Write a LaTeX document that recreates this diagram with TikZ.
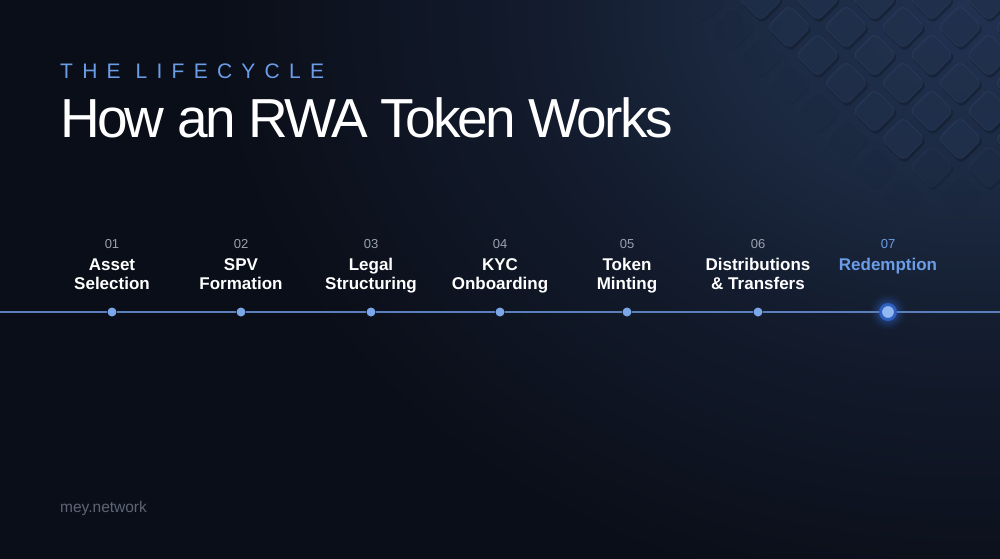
\documentclass[tikz,border=0pt]{standalone}
\usepackage{fontspec}
\setmainfont{Liberation Sans}
\definecolor{bgc}{HTML}{0A0E18}
\definecolor{glowa}{HTML}{213150}
\definecolor{glowb}{HTML}{1C2A42}
\definecolor{glowc}{HTML}{121A2B}
\definecolor{dfill}{HTML}{22324F}
\definecolor{dedge}{HTML}{4A5F85}
\definecolor{kickc}{HTML}{6B9DE6}
\definecolor{numc}{HTML}{9AA1AE}
\definecolor{linec}{HTML}{5A7FBA}
\definecolor{dotc}{HTML}{7BA6EA}
\definecolor{dotlight}{HTML}{92B8F2}
\definecolor{ringc}{HTML}{2E5EBE}
\definecolor{brandc}{HTML}{5D6576}
\pgfdeclareradialshading{bgglow}{\pgfpoint{0bp}{0bp}}{color(0bp)=(glowa); color(7bp)=(glowb); color(15bp)=(glowc); color(25bp)=(bgc); color(50bp)=(bgc)}
\tikzset{
  kicker/.style={anchor=base west, inner sep=0pt, text=kickc, font=\fontsize{21}{24}\selectfont\addfontfeature{LetterSpace=44}},
  headline/.style={anchor=base west, inner sep=0pt, text=white, font=\fontsize{55}{60}\selectfont\addfontfeature{LetterSpace=-5}},
  stepnum/.style={anchor=base, inner sep=0pt, text=numc, font=\fontsize{13}{15}\selectfont},
  steplabel/.style={anchor=base, inner sep=0pt, text=white, font=\bfseries\fontsize{17}{20}\selectfont},
  dotnode/.style={circle, fill=dotc, inner sep=0pt, minimum size=9pt},
  bigdot/.style={circle, fill=dotlight, draw=ringc, line width=3pt, inner sep=0pt, minimum size=15pt},
  tline/.style={draw=linec, line width=1.4pt},
  brand/.style={anchor=base west, inner sep=0pt, text=brandc, font=\fontsize{15.5}{18}\selectfont}
}
\begin{document}
\begin{tikzpicture}[x=1pt,y=-1pt]
\useasboundingbox (0,0) rectangle (1000,558);
\fill[bgc] (-6,-6) rectangle (1006,564);
\begin{scope}
  \clip (-6,-6) rectangle (1006,564);
  % soft glow in the top right corner (radial shading centred at (970,10))
  \shade[shading=bgglow] (210,-590) rectangle (1730,610);
  % diamond pattern
  \foreach \k in {0,...,7}{
    \foreach \i in {0,...,6}{
      \pgfmathsetmacro{\cy}{-1+28*\k}
      \pgfmathsetmacro{\cx}{703.5+57*\i+28.5*mod(\k,2)}
      \pgfmathsetmacro{\fa}{max(0,min(1,(\cx-\cy-690)/80))}
      \pgfmathsetmacro{\fb}{max(0,min(1,(200-\cy)/60))}
      \pgfmathsetmacro{\op}{\fa*\fb}
      \ifdim\op pt>0.01pt
        \begin{scope}[shift={(\cx+1.5,\cy+2.5)},rotate=45]
          \fill[black, opacity=0.22*\op, rounded corners=6pt] (-16,-16) rectangle (16,16);
        \end{scope}
        \begin{scope}[shift={(\cx,\cy)},rotate=45]
          \fill[dfill, opacity=0.8*\op, rounded corners=6pt] (-15.5,-15.5) rectangle (15.5,15.5);
          \draw[dedge, opacity=0.3*\op, line width=0.5pt, rounded corners=6pt] (-15.5,-15.5) rectangle (15.5,15.5);
        \end{scope}
      \fi
    }
  }
\end{scope}

\node[kicker] (kick) at (60,78) {THE LIFECYCLE};
\node[headline] (title) at (60,137) {How an RWA Token Works};

\coordinate (L) at (-3,312);
\coordinate (R) at (1003,312);

\foreach \x/\n/\a/\b/\id in {112/01/Asset/Selection/1, 241/02/SPV/Formation/2, 371/03/Legal/Structuring/3, 500/04/KYC/Onboarding/4, 627/05/Token/Minting/5, 758/06/Distributions/\& Transfers/6}{
  \node[stepnum] (n\id) at (\x,248) {\n};
  \node[steplabel] (la\id) at (\x,270) {\a};
  \node[steplabel] (lb\id) at (\x,289) {\b};
}
\node[stepnum, text=kickc] (n7) at (888,248) {07};
\node[steplabel, text=kickc] (la7) at (888,270) {Redemption};

% glow behind last dot
\foreach \r/\o in {18/0.05,16/0.07,14/0.09,12.5/0.12,11/0.15}{
  \fill[ringc, opacity=\o] (888,312) circle (\r);
}

\foreach \x/\id in {112/1,241/2,371/3,500/4,627/5,758/6}{
  \node[dotnode] (d\id) at (\x,312) {};
}
\node[bigdot] (d7) at (888,312) {};

\draw[tline] (L) -- (d1);
\foreach \a/\b in {1/2,2/3,3/4,4/5,5/6,6/7}{
  \draw[tline] (d\a) -- (d\b);
}
\draw[tline] (d7) -- (R);

\node[brand] (brand) at (60,512) {mey.network};
\end{tikzpicture}
\end{document}
